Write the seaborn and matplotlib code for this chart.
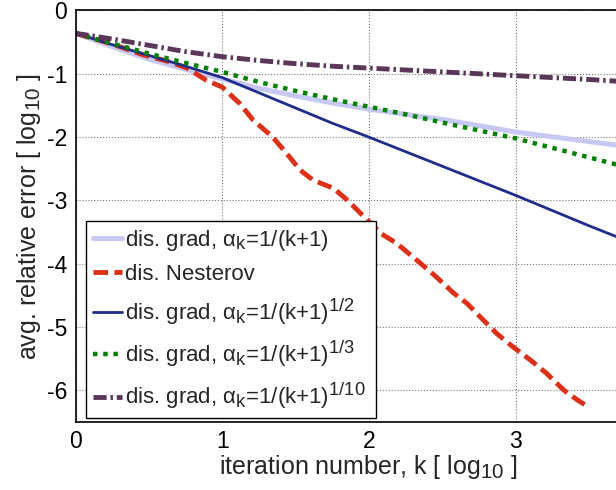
import numpy as np
import pandas as pd
import matplotlib
matplotlib.use('Agg')
import matplotlib.pyplot as plt
import matplotlib._mathtext as mtext
import seaborn as sns

# values (log10 scale on both axes)
x_grad = [0, 0.25, 0.5, 0.75, 1, 1.25, 1.5, 1.75, 2, 2.25, 2.5, 3, 3.5, 4]
y_grad_1 = [-0.36, -0.57, -0.77, -0.93, -1.08, -1.23, -1.35, -1.46, -1.56, -1.64, -1.72, -1.92, -2.07, -2.22]
y_grad_half = [-0.36, -0.54, -0.71, -0.88, -1.06, -1.30, -1.54, -1.78, -2.00, -2.23, -2.46, -2.92, -3.40, -3.86]
y_grad_third = [-0.36, -0.52, -0.68, -0.83, -0.97, -1.13, -1.27, -1.40, -1.52, -1.64, -1.77, -2.02, -2.32, -2.62]
y_grad_tenth = [-0.36, -0.45, -0.55, -0.65, -0.73, -0.79, -0.84, -0.88, -0.91, -0.94, -0.97, -1.03, -1.09, -1.16]

x_nest = [0, 0.25, 0.46, 0.64, 0.76, 0.89, 1.0, 1.12, 1.21, 1.34, 1.44, 1.53, 1.62, 1.76,
          1.85, 1.92, 1.99, 2.08, 2.19, 2.35, 2.46, 2.58, 2.67, 2.78, 2.87, 2.98, 3.10,
          3.21, 3.33, 3.42, 3.50]
y_nest = [-0.36, -0.53, -0.70, -0.81, -0.91, -1.10, -1.21, -1.47, -1.73, -1.99, -2.26, -2.52,
          -2.68, -2.81, -2.99, -3.15, -3.31, -3.52, -3.68, -3.99, -4.21, -4.47, -4.63, -4.89,
          -5.10, -5.31, -5.52, -5.73, -6.00, -6.15, -6.27]

labels = [r'dis. grad, $\alpha_{\rm k}$=1/(k+1)',
          'dis. Nesterov',
          r'dis. grad, $\alpha_{\rm k}$=1/(k+1)$^{1/2}$',
          r'dis. grad, $\alpha_{\rm k}$=1/(k+1)$^{1/3}$',
          r'dis. grad, $\alpha_{\rm k}$=1/(k+1)$^{1/10}$']

sns.set_style('white')
plt.rcParams['font.family'] = ['Liberation Sans', 'DejaVu Sans']
plt.rcParams['mathtext.fontset'] = 'custom'
plt.rcParams['mathtext.rm'] = 'Liberation Sans'
plt.rcParams['mathtext.it'] = 'Liberation Sans:italic'
plt.rcParams['mathtext.default'] = 'rm'
plt.rcParams['axes.unicode_minus'] = False
# matlab draws sub/superscripts bigger than mathtext does
mtext.SHRINK_FACTOR = 0.82

fig = plt.figure(figsize=(6.16, 4.90), dpi=100)
# axes runs past the right edge like the cropped original
ax = fig.add_axes([0.1226, 0.1388, 0.9526, 0.8398])

sns.lineplot(x=x_grad, y=y_grad_1, ax=ax, color='#c8c8f4', lw=3.6, label=labels[0])
sns.lineplot(x=x_nest, y=y_nest, ax=ax, color='#dd3018', lw=3.5,
             linestyle=(0, (3.0, 1.3)), label=labels[1])
sns.lineplot(x=x_grad, y=y_grad_half, ax=ax, color='#1f2d8c', lw=2.0, label=labels[2])
sns.lineplot(x=x_grad, y=y_grad_third, ax=ax, color='#008000', lw=3.2,
             linestyle=(0, (1, 1.3)), label=labels[3])
sns.lineplot(x=x_grad, y=y_grad_tenth, ax=ax, color='#5a3659', lw=3.5,
             linestyle=(0, (2.7, 0.8, 0.5, 0.8)), label=labels[4])

ax.set_xlim(0, 4)
ax.set_ylim(-6.5, 0)
ax.set_xticks([0, 1, 2, 3])
ax.set_yticks([0, -1, -2, -3, -4, -5, -6])
ax.grid(True, color='#777777', linestyle=':', lw=0.8)
ax.tick_params(direction='in', length=4, labelsize=16.5, colors='black', pad=6)
for s in ax.spines.values():
    s.set_color('black')
    s.set_linewidth(1.2)

ax.set_xlabel(r'iteration number, k [ log$_{10}$ ]', fontsize=18, labelpad=0)
ax.set_ylabel(r'avg. relative error [ log$_{10}$ ]', fontsize=18, labelpad=3)

leg = ax.legend(loc='lower left', bbox_to_anchor=(0.018, 0.0097, 0.494, 0.48),
                mode='expand', borderaxespad=0,
                fontsize=16, frameon=True, fancybox=False, framealpha=1,
                edgecolor='black', handlelength=1.3, handletextpad=0.15,
                labelspacing=0.52, borderpad=0.3)
leg.get_frame().set_linewidth(1.0)

plt.savefig('out.png', dpi=100)
